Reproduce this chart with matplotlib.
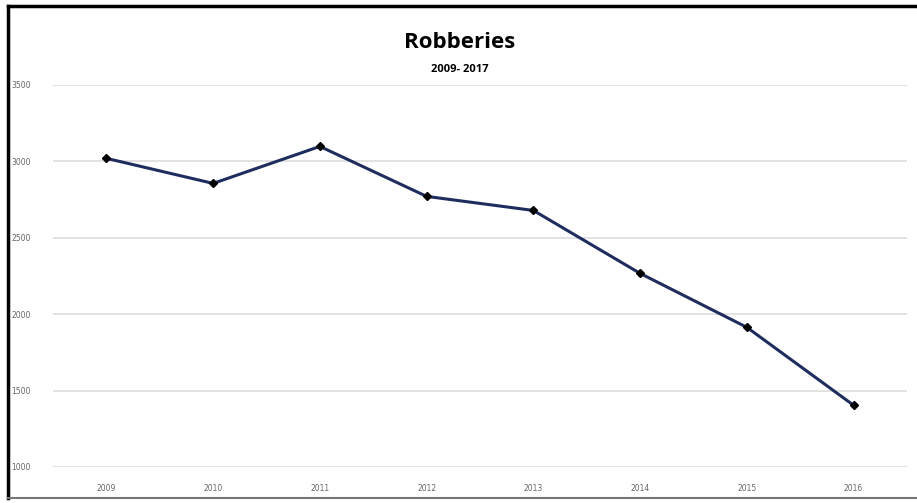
import matplotlib
matplotlib.use("Agg")
import matplotlib.pyplot as plt
from matplotlib.lines import Line2D

years = ["2009", "2010", "2011", "2012", "2013", "2014", "2015", "2016"]
robberies = [3020, 2856, 3098, 2771, 2679, 2267, 1914, 1404]
y_ticks = [1000, 1500, 2000, 2500, 3000, 3500]

W, H = 917, 503
fig = plt.figure(figsize=(W / 100, H / 100), dpi=100)
ax = fig.add_axes([53 / W, 1 - 467 / H, 854 / W, (467 - 85) / H])

x = list(range(len(years)))
ax.plot(x, robberies, color="#1f2d5e", linewidth=2.2, marker="D",
        markersize=4.5, markerfacecolor="black", markeredgecolor="black", zorder=3)

ax.set_xlim(-0.5, len(years) - 0.5)
ax.set_ylim(1000, 3500)
ax.set_yticks(y_ticks)
ax.set_yticklabels([str(v) for v in y_ticks])
ax.set_xticks(x)
ax.set_xticklabels(years)
ax.grid(axis="y", color="#dddddd", linewidth=1.2)
ax.set_axisbelow(True)
for s in ax.spines.values():
    s.set_visible(False)
ax.tick_params(length=0, labelsize=5.5, labelcolor="#666666")
ax.tick_params(axis="y", pad=16)
ax.tick_params(axis="x", pad=12)

fig.text(460 / W, 1 - 43 / H, "Robberies", ha="center", va="center",
         fontsize=16, fontweight="bold", family="Open Sans")
fig.text(460 / W, 1 - 69 / H, "2009- 2017", ha="center", va="center",
         fontsize=8, fontweight="bold", family="Open Sans")

# frame around the chart
fig.add_artist(Line2D([8 / W, 8 / W], [1 - 6 / H, 1 - 498 / H], color="black", linewidth=2.5))
fig.add_artist(Line2D([8 / W, 1], [1 - 6 / H, 1 - 6 / H], color="black", linewidth=2.5))
fig.add_artist(Line2D([8 / W, 1], [1 - 498 / H, 1 - 498 / H], color="#777777", linewidth=1.5))

fig.savefig("out.png", dpi=100)
